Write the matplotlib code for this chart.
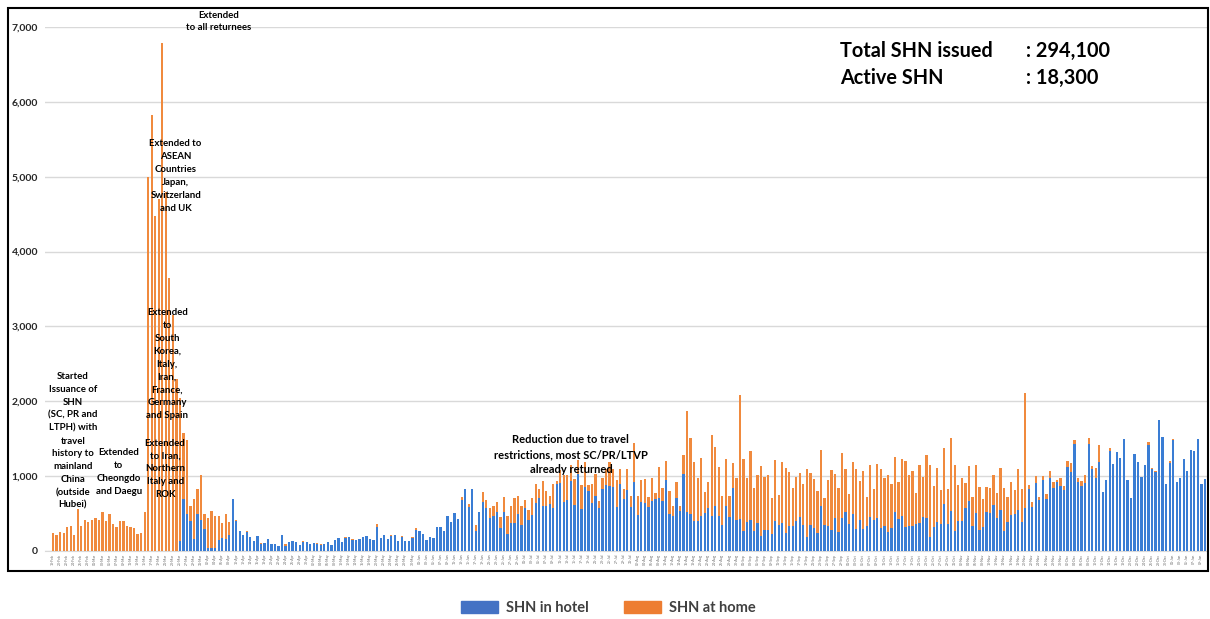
import numpy as np
import pandas as pd
import matplotlib
matplotlib.use("Agg")
import matplotlib.pyplot as plt
from matplotlib.patches import Patch, Rectangle

plt.rcParams['font.family'] = ['Lato', 'DejaVu Sans']

# daily SHN issued (blue = in hotel, orange = at home)
hotel = [
    0, 0, 0, 0, 0, 0, 0, 0, 0, 0,
    0, 0, 0, 0, 0, 0, 0, 0, 0, 0,
    0, 0, 0, 0, 0, 0, 0, 0, 0, 0,
    0, 0, 0, 0, 0, 0, 130, 700, 500, 400,
    160, 500, 420, 300, 35, 40, 40, 150, 170, 160,
    220, 690, 400, 265, 220, 255, 190, 140, 195, 90,
    110, 160, 90, 100, 70, 210, 70, 125, 135, 125,
    80, 120, 115, 90, 105, 100, 85, 100, 125, 80,
    150, 180, 115, 180, 185, 150, 145, 165, 185, 200,
    160, 150, 320, 180, 210, 155, 200, 220, 135, 190,
    130, 135, 180, 280, 270, 226, 147, 191, 169, 315,
    315, 262, 471, 382, 502, 426, 679, 826, 582, 826,
    271, 515, 648, 568, 435, 471, 515, 311, 515, 226,
    368, 373, 493, 351, 568, 417, 480, 635, 702, 604,
    604, 626, 573, 892, 906, 657, 684, 937, 613, 1026,
    559, 857, 804, 635, 737, 573, 826, 884, 866, 857,
    591, 892, 693, 817, 591, 928, 484, 648, 639, 582,
    670, 693, 706, 662, 946, 493, 471, 702, 528, 1026,
    524, 493, 395, 395, 471, 502, 568, 462, 604, 471,
    351, 595, 448, 848, 413, 426, 271, 382, 413, 271,
    368, 204, 284, 284, 226, 395, 351, 373, 244, 329,
    329, 404, 448, 351, 182, 351, 306, 240, 604, 351,
    337, 284, 440, 258, 435, 515, 360, 493, 293, 417,
    293, 329, 448, 413, 435, 302, 337, 258, 302, 524,
    426, 471, 315, 337, 329, 360, 377, 457, 440, 182,
    315, 382, 360, 626, 360, 537, 262, 404, 404, 573,
    670, 329, 502, 284, 324, 524, 502, 617, 435, 551,
    262, 382, 480, 493, 546, 391, 568, 826, 582, 915,
    684, 950, 693, 981, 839, 928, 870, 817, 1128, 1061,
    1425, 928, 870, 915, 1434, 1100, 970, 1195, 786, 951,
    1341, 1164, 1328, 1239, 1492, 951, 711, 1297, 1195, 986,
    1150, 1420, 1100, 1060, 1750, 1519, 897, 1173, 1480, 920,
    973, 1230, 1075, 1345, 1330, 1490, 897, 964,
]
home = [
    240, 215, 255, 245, 320, 340, 215, 560, 335, 410,
    390, 420, 435, 420, 525, 395, 490, 360, 320, 400,
    400, 330, 320, 305, 225, 245, 520, 5000, 5830, 4480,
    4700, 6780, 4800, 3650, 3150, 2300, 1920, 870, 980, 200,
    540, 330, 600, 200, 410, 490, 430, 320, 200, 330,
    170, 0, 20, 0, 0, 10, 0, 0, 0, 20,
    0, 0, 0, 0, 0, 0, 20, 0, 0, 0,
    0, 15, 0, 0, 0, 5, 15, 0, 0, 0,
    0, 0, 0, 10, 0, 10, 0, 0, 0, 0,
    0, 0, 35, 0, 10, 0, 10, 0, 0, 10,
    0, 0, 10, 30, 0, 0, 0, 0, 0, 0,
    0, 10, 0, 0, 0, 0, 45, 0, 44, 0,
    80, 0, 142, 111, 133, 133, 142, 146, 209, 245,
    236, 329, 244, 248, 116, 129, 226, 257, 124, 333,
    200, 111, 320, 45, 173, 360, 333, 209, 355, 186,
    320, 333, 80, 266, 298, 89, 155, 208, 324, 235,
    359, 209, 133, 275, 146, 515, 253, 302, 329, 142,
    302, 80, 422, 186, 257, 311, 133, 226, 76, 253,
    1345, 1012, 795, 577, 777, 288, 356, 1088, 786, 652,
    386, 639, 289, 324, 568, 1656, 963, 590, 919, 564,
    644, 933, 711, 733, 476, 822, 399, 821, 862, 732,
    510, 591, 591, 541, 910, 692, 653, 555, 746, 355,
    609, 795, 586, 590, 879, 577, 399, 701, 799, 520,
    777, 386, 702, 413, 724, 790, 644, 759, 590, 733,
    502, 754, 888, 675, 741, 421, 773, 533, 843, 968,
    555, 732, 452, 746, 466, 977, 888, 480, 568, 342,
    467, 395, 644, 573, 369, 333, 346, 395, 346, 555,
    586, 342, 444, 319, 546, 435, 1541, 53, 66, 88,
    31, 53, 66, 89, 85, 22, 111, 49, 75, 120,
    54, 53, 67, 97, 71, 40, 135, 215, 0, 0,
    30, 0, 0, 0, 0, 0, 0, 0, 0, 0,
    0, 30, 15, 10, 0, 0, 0, 35, 20, 0,
    0, 0, 0, 0, 0, 0, 0, 0,
]

dates = pd.date_range('2020-02-18', periods=len(hotel), freq='D')
date_labels = [d.strftime('%d-%b') for d in dates]

fig = plt.figure(figsize=(12.1, 6.19), dpi=100)
ax = fig.add_axes([45 / 1210, 68 / 619, 1162 / 1210, 524 / 619])

x = np.arange(len(hotel))
blue = '#3a7dd4'
orange = '#f08a3e'
ax.bar(x, hotel, width=0.65, color=blue, zorder=3)
ax.bar(x, home, width=0.65, bottom=hotel, color=orange, zorder=3)

ax.set_ylim(0, 7000)
ax.set_xlim(-2.3, len(hotel) - 0.4)
ax.set_yticks(range(0, 7001, 1000))
ax.set_yticklabels([f'{v:,}' for v in range(0, 7001, 1000)],
                   fontsize=7.5, fontweight='bold', color='#262626')
ax.yaxis.grid(True, color='#d9d9d9', linewidth=1, zorder=0)
ax.tick_params(axis='y', length=0, pad=5)
ax.set_xticks(x[::2])
ax.set_xticklabels(date_labels[::2], rotation=90, fontsize=2.4, color='#666666')
ax.tick_params(axis='x', length=0, pad=2)
for s in ['top', 'right', 'left']:
    ax.spines[s].set_visible(False)
ax.spines['bottom'].set_color('#d9d9d9')

# annotations
kw = dict(ha='center', va='top', fontsize=6.9, fontweight='bold',
          linespacing=1.55, zorder=5, color='black')
ax.text(5.6, 2390, 'Started\nIssuance of\nSHN\n(SC, PR and\nLTPH) with\ntravel\nhistory to\nmainland\nChina\n(outside\nHubei)', **kw)
ax.text(18.6, 1370, 'Extended\nto\nCheongdo\nand Daegu', **kw)
ax.text(47, 7210, 'Extended\nto all returnees', clip_on=False, **dict(kw, linespacing=1.4))
ax.text(34.8, 5500, 'Extended to\nASEAN\nCountries\nJapan,\nSwitzerland\nand UK', **kw)
ax.text(32.4, 3240, 'Extended\nto\nSouth\nKorea,\nItaly,\nIran,\nFrance,\nGermany\nand Spain', **kw)
ax.text(31.8, 1500, 'Extended\nto Iran,\nNorthern\nItaly and\nROK', **kw)
ax.text(147, 1565, 'Reduction due to travel\nrestrictions, most SC/PR/LTVP\nalready returned',
        **dict(kw, fontsize=8, linespacing=1.45))

big = dict(fontsize=14.3, fontweight='bold', va='center', ha='left')
fig.text(840 / 1210, 1 - 51 / 619, 'Total SHN issued', **big)
fig.text(1026 / 1210, 1 - 51 / 619, ': 294,100', **big)
fig.text(840 / 1210, 1 - 78 / 619, 'Active SHN', **big)
fig.text(1026 / 1210, 1 - 78 / 619, ': 18,300', **big)

handles = [Patch(color='#4472c4', label='SHN in hotel'),
           Patch(color='#ed7d31', label='SHN at home')]
fig.legend(handles=handles, loc='center', bbox_to_anchor=(0.503, 1 - 608 / 619),
           ncol=2, frameon=False, handlelength=2.5, handleheight=0.9,
           handletextpad=0.6, columnspacing=2.4,
           prop={'weight': 'bold', 'size': 10.5})
for t in fig.legends[0].get_texts():
    t.set_color('#404040')

fig.patches.append(Rectangle((8 / 1210, 1 - 571 / 619), 1200 / 1210, 563 / 619,
                             transform=fig.transFigure, fill=False,
                             edgecolor='black', linewidth=1.5))

fig.savefig('out.png', dpi=100)
